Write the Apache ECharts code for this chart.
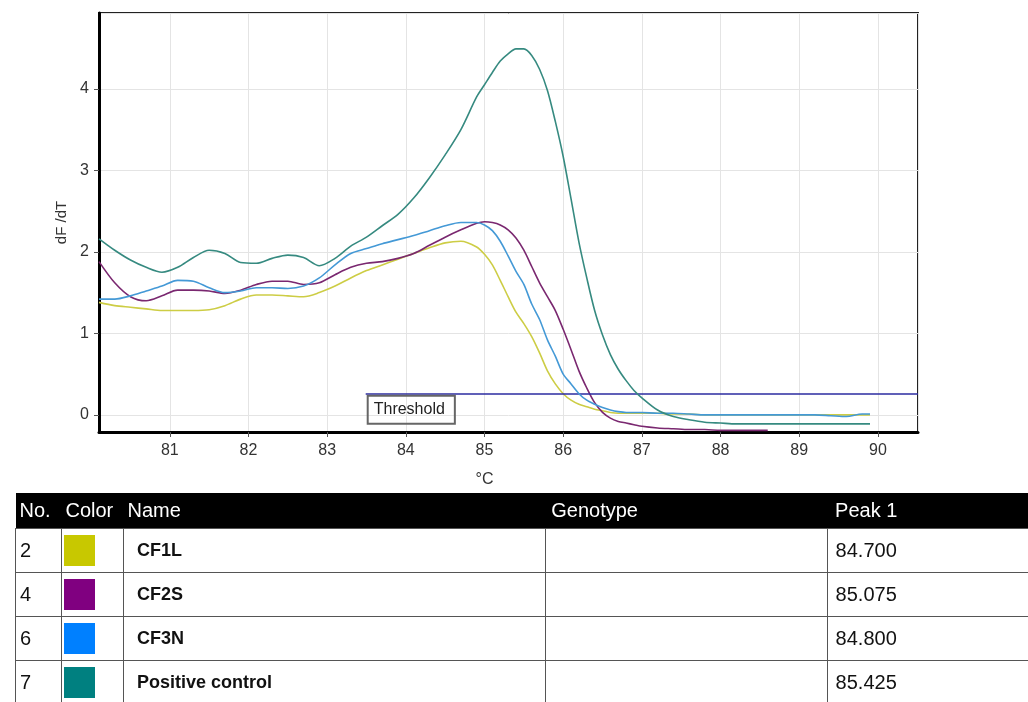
<!DOCTYPE html>
<html>
<head>
<meta charset="utf-8">
<script src="https://cdn.jsdelivr.net/npm/echarts@6/dist/echarts.min.js"></script>
<style>
  html, body { margin: 0; padding: 0; background: #fff; }
  #wrap { position: relative; width: 1028px; height: 702px; overflow: hidden; }
  #chart { position: absolute; left: 0; top: 0; width: 1028px; height: 702px; }
  #tbl { position: absolute; left: 15px; top: 493px; border-collapse: collapse;
         font-family: "Liberation Sans", Arial, sans-serif; font-size: 20px; color: #111; }
  #tbl th { background: #000; color: #fff; font-weight: normal; text-align: left;
            height: 35px; padding: 0 0 0 4px; }
  #tbl td { border: 1px solid #555; height: 43px; padding: 0 0 0 4px; vertical-align: middle; }
  #tbl td.nm { font-weight: bold; font-size: 18px; padding-left: 13px; }
  #tbl td.pk, #tbl th.pk { padding-left: 8px; border-right: none; }
  #tbl th.gt { padding-left: 6px; }
  #tbl td.cl { padding-left: 2px; }
  #tbl .sw { width: 31px; height: 31px; }
</style>
</head>
<body>
<div id="wrap">
  <div id="chart"></div>
  <table id="tbl"></table>
</div>
<script>
// temperature grid (°C) shared by every curve
var temps = [80.1, 80.3, 80.5, 80.7, 80.9, 81.1, 81.3, 81.5, 81.7, 81.9,
  82.1, 82.3, 82.5, 82.7, 82.9, 83.1, 83.3, 83.5, 83.7, 83.9,
  84.1, 84.3, 84.5, 84.7, 84.9, 85.0, 85.1, 85.2, 85.3, 85.4,
  85.5, 85.6, 85.7, 85.8, 85.9, 86.0, 86.1, 86.2, 86.3, 86.4,
  86.5, 86.6, 86.7, 86.8, 86.9, 87.0, 87.2, 87.4, 87.6, 87.8,
  88.0, 88.2, 88.4, 88.6, 88.8, 89.0, 89.2, 89.4, 89.6, 89.8, 89.9];

var cf1l = [1.38, 1.34, 1.32, 1.30, 1.28, 1.28, 1.28, 1.29, 1.34, 1.42,
  1.47, 1.47, 1.46, 1.45, 1.50, 1.58, 1.68, 1.77, 1.84, 1.91,
  1.98, 2.05, 2.11, 2.13, 2.06, 1.97, 1.84, 1.65, 1.45, 1.26,
  1.12, 0.96, 0.76, 0.54, 0.38, 0.26, 0.18, 0.13, 0.10, 0.07,
  0.05, 0.03, 0.02, 0.02, 0.02, 0.02, 0.02, 0.01, 0.01, 0.0,
  0.0, 0.0, 0.0, 0.0, 0.0, 0.0, 0.0, 0.0, 0.0, 0.0, 0.0];

var cf2s = [1.88, 1.62, 1.45, 1.40, 1.46, 1.53, 1.53, 1.52, 1.49, 1.53,
  1.60, 1.64, 1.64, 1.60, 1.62, 1.72, 1.81, 1.86, 1.88, 1.92,
  1.98, 2.08, 2.18, 2.27, 2.35, 2.37, 2.36, 2.33, 2.27, 2.17,
  2.02, 1.82, 1.62, 1.45, 1.28, 1.05, 0.80, 0.54, 0.33, 0.15,
  0.03, -0.04, -0.08, -0.10, -0.12, -0.14, -0.16, -0.17, -0.18, -0.18,
  -0.19, -0.19, -0.19, -0.19, null, null, null, null, null, null, null];

var cf3n = [1.42, 1.42, 1.46, 1.52, 1.58, 1.65, 1.64, 1.56, 1.50, 1.52,
  1.56, 1.56, 1.55, 1.58, 1.68, 1.84, 1.98, 2.04, 2.10, 2.15,
  2.20, 2.26, 2.32, 2.36, 2.36, 2.33, 2.26, 2.13, 1.95, 1.76,
  1.60, 1.36, 1.17, 0.92, 0.72, 0.50, 0.38, 0.26, 0.18, 0.13,
  0.09, 0.06, 0.04, 0.03, 0.03, 0.03, 0.02, 0.02, 0.01, 0.0,
  0.0, 0.0, 0.0, 0.0, 0.0, 0.0, 0.0, -0.01, -0.02, 0.01, 0.01];

var positive = [2.16, 2.02, 1.90, 1.81, 1.75, 1.81, 1.93, 2.02, 1.98, 1.87,
  1.86, 1.92, 1.96, 1.93, 1.83, 1.92, 2.07, 2.18, 2.32, 2.46,
  2.66, 2.91, 3.19, 3.50, 3.90, 4.05, 4.20, 4.34, 4.43, 4.49,
  4.49, 4.41, 4.24, 3.98, 3.60, 3.17, 2.65, 2.12, 1.68, 1.28,
  0.98, 0.74, 0.56, 0.42, 0.30, 0.21, 0.06, -0.02, -0.06, -0.09,
  -0.10, -0.11, -0.11, -0.11, -0.11, -0.11, -0.11, -0.11, -0.11, -0.11, -0.11];

var threshold = 0.26;
var thresholdStart = 83.49;

// table rows
var rowNo = ['2', '4', '6', '7'];
var rowName = ['CF1L', 'CF2S', 'CF3N', 'Positive control'];
var rowPeak = ['84.700', '85.075', '84.800', '85.425'];
var swatch = ['#c8c800', '#800080', '#0080ff', '#008080'];
var lineColor = ['#cdcd45', '#7a2870', '#4499d6', '#368a80'];

var xMin = 80.1, xMax = 90.51, yMin = -0.21, yMax = 4.93;

function pairs(vals) {
  return temps.map(function (t, i) { return [t, vals[i]]; });
}

var curves = [cf1l, cf2s, cf3n, positive];
var seriesData = curves.map(function (vals, i) {
  return {
    name: rowName[i],
    type: 'line',
    data: pairs(vals),
    smooth: 0.3,
    showSymbol: false,
    lineStyle: { color: lineColor[i], width: 1.6 },
    z: 3 + i
  };
});

seriesData.push({
  name: 'Threshold',
  type: 'line',
  data: [],
  z: 10,
  markLine: {
    silent: true,
    symbol: 'none',
    animation: false,
    lineStyle: { color: '#2b2ba0', width: 1.5, type: 'solid' },
    label: {
      show: true,
      formatter: 'Threshold',
      position: 'insideStartBottom',
      distance: 2,
      color: '#222',
      fontSize: 16,
      fontFamily: 'Liberation Sans',
      backgroundColor: 'transparent',
      borderColor: '#666',
      borderWidth: 1,
      padding: [6, 10, 6, 6]
    },
    data: [[{ coord: [thresholdStart, threshold] }, { coord: [xMax, threshold] }]]
  }
});

var chart = echarts.init(document.getElementById('chart'));
chart.setOption({
  animation: false,
  textStyle: { fontFamily: 'Liberation Sans' },
  grid: {
    left: 99, top: 13, right: 110, bottom: 270,
    show: true, borderColor: '#222', borderWidth: 2, backgroundColor: '#fff'
  },
  xAxis: {
    type: 'value',
    min: xMin, max: xMax,
    minInterval: 1, maxInterval: 1,
    name: '°C',
    nameLocation: 'middle',
    nameGap: 40,
    nameTextStyle: { fontSize: 16, color: '#333', padding: [0, 48, 0, 0] },
    axisLine: { onZero: false, lineStyle: { color: '#000', width: 3 } },
    axisTick: { show: true, length: 5, lineStyle: { color: '#555' } },
    axisLabel: { fontSize: 16, color: '#333', margin: 11, showMinLabel: false, showMaxLabel: false },
    splitLine: { show: true, lineStyle: { color: '#e4e4e4' } }
  },
  yAxis: {
    type: 'value',
    min: yMin, max: yMax,
    minInterval: 1, maxInterval: 1,
    name: 'dF /dT',
    nameLocation: 'middle',
    nameGap: 27,
    nameTextStyle: { fontSize: 15, color: '#333' },
    axisLine: { show: true, onZero: false, lineStyle: { color: '#000', width: 3 } },
    axisTick: { show: true, length: 5, lineStyle: { color: '#555' } },
    axisLabel: { fontSize: 16, color: '#333', margin: 10, showMinLabel: false, showMaxLabel: false },
    splitLine: { show: true, lineStyle: { color: '#e4e4e4' } }
  },
  series: seriesData
});

// results table under the plot
var html = '<tr><th style="width:42px">No.</th><th style="width:58px">Color</th>' +
  '<th style="width:418px">Name</th><th class="gt" style="width:276px">Genotype</th>' +
  '<th class="pk" style="width:193px">Peak 1</th></tr>';
rowNo.forEach(function (n, i) {
  html += '<tr><td>' + n + '</td>' +
    '<td class="cl"><div class="sw" style="background:' + swatch[i] + '"></div></td>' +
    '<td class="nm">' + rowName[i] + '</td><td></td><td class="pk">' + rowPeak[i] + '</td></tr>';
});
document.getElementById('tbl').innerHTML = html;
</script>
</body>
</html>
